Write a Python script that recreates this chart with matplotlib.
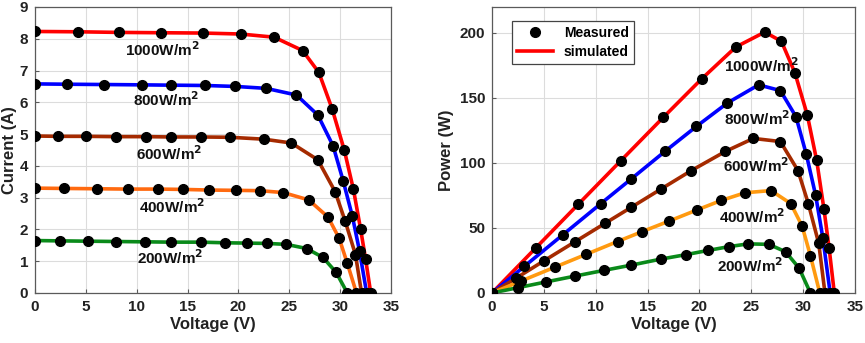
import matplotlib
matplotlib.use("Agg")
import matplotlib.pyplot as plt
from matplotlib.lines import Line2D

plt.rcParams['font.family'] = ['Liberation Sans', 'DejaVu Sans']
plt.rcParams['font.weight'] = 'bold'

# measured points (voltage V, current A, power W) for each irradiance level
levels = ['1000', '800', '600', '400', '200']

v_1000 = [0, 4.2, 8.3, 12.4, 16.5, 20.2, 23.5, 26.3, 27.9, 29.2, 30.4, 31.3, 32.0, 32.5, 33.0]
i_1000 = [8.23, 8.22, 8.20, 8.19, 8.18, 8.15, 8.05, 7.63, 6.94, 5.80, 4.50, 3.26, 2.02, 1.06, 0]
p_1000 = [0, 34.5, 68.1, 101.6, 135.0, 164.6, 189.2, 200.7, 193.6, 169.4, 136.8, 102.0, 64.6, 34.5, 0]

v_800 = [0, 3.1, 6.8, 10.5, 13.4, 16.7, 19.7, 22.7, 25.7, 27.8, 29.3, 30.3, 31.2, 31.9, 32.6]
i_800 = [6.58, 6.57, 6.56, 6.55, 6.54, 6.53, 6.50, 6.44, 6.23, 5.60, 4.63, 3.52, 2.41, 1.32, 0]
p_800 = [0, 20.4, 44.6, 68.8, 87.6, 109.1, 128.1, 146.2, 160.1, 155.7, 135.7, 106.7, 75.2, 42.1, 0]

v_600 = [0, 2.3, 5.0, 8.0, 10.9, 13.4, 16.3, 19.2, 22.5, 25.2, 27.8, 29.5, 30.5, 31.5, 32.1]
i_600 = [4.94, 4.93, 4.93, 4.92, 4.92, 4.91, 4.91, 4.90, 4.84, 4.72, 4.19, 3.19, 2.25, 1.21, 0]
p_600 = [0, 11.3, 24.7, 39.4, 53.6, 65.8, 80.0, 94.1, 108.9, 118.9, 116.5, 94.1, 68.6, 38.1, 0]

v_400 = [0, 2.8, 6.1, 9.1, 12.1, 14.5, 17.1, 19.8, 22.1, 24.4, 26.9, 28.8, 29.9, 30.7, 31.6]
i_400 = [3.30, 3.29, 3.28, 3.27, 3.27, 3.26, 3.24, 3.23, 3.22, 3.16, 2.93, 2.39, 1.72, 0.93, 0]
p_400 = [0, 9.2, 20.0, 29.8, 39.6, 47.3, 55.4, 64.0, 71.2, 77.1, 78.8, 68.8, 51.4, 28.6, 0]

v_200 = [0, 2.5, 5.2, 8.0, 10.8, 13.4, 16.3, 18.7, 20.8, 22.8, 24.7, 26.7, 28.3, 29.6, 30.7]
i_200 = [1.65, 1.64, 1.63, 1.62, 1.61, 1.60, 1.60, 1.58, 1.57, 1.56, 1.53, 1.40, 1.12, 0.65, 0]
p_200 = [0, 4.1, 8.5, 13.0, 17.4, 21.4, 26.1, 29.5, 32.7, 35.6, 37.8, 37.4, 31.7, 19.2, 0]

volts = [v_1000, v_800, v_600, v_400, v_200]
currents = [i_1000, i_800, i_600, i_400, i_200]
powers = [p_1000, p_800, p_600, p_400, p_200]

iv_colors = ['#ff0000', '#0000ff', '#a52a00', '#ff6a10', '#0a8a1a']
pv_colors = ['#ff0000', '#0000ff', '#a52a00', '#ff9a10', '#0a8a1a']

# label anchor positions (data coords)
iv_label_xy = [(12.5, 7.67), (12.9, 6.07), (13.2, 4.37), (13.5, 2.72), (13.3, 1.10)]
pv_label_xy = [(26.0, 175), (25.6, 134), (25.5, 98), (25.1, 59), (24.9, 21)]

fig = plt.figure(figsize=(8.65, 3.43), dpi=100)
ax1 = fig.add_axes([0.0405, 0.1458, 0.4116, 0.8338])
ax2 = fig.add_axes([0.5688, 0.1458, 0.4197, 0.8338])


def style_axes(ax):
    ax.grid(True, color='#dcdcdc', linewidth=0.8)
    ax.set_axisbelow(True)
    for s in ax.spines.values():
        s.set_color('#5a5a5a')
        s.set_linewidth(0.9)
    ax.tick_params(direction='in', length=3, color='#5a5a5a', labelsize=11,
                   labelcolor='#222222', pad=5)
    for lab in ax.get_xticklabels() + ax.get_yticklabels():
        lab.set_fontweight('bold')


for k in range(len(levels)):
    ax1.plot(volts[k], currents[k], color=iv_colors[k], lw=2.6, zorder=2)
    ax1.plot(volts[k], currents[k], 'o', color='black', ms=7, zorder=3)
    ax1.text(iv_label_xy[k][0], iv_label_xy[k][1], levels[k] + r'W/m$^{\mathbf{2}}$',
             ha='center', va='center', fontsize=11, fontweight='bold', color='#111111', zorder=4)

    ax2.plot(volts[k], powers[k], color=pv_colors[k], lw=2.6, zorder=2)
    ax2.plot(volts[k], powers[k], 'o', color='black', ms=7, zorder=3)
    ax2.text(pv_label_xy[k][0], pv_label_xy[k][1], levels[k] + r'W/m$^{\mathbf{2}}$',
             ha='center', va='center', fontsize=11, fontweight='bold', color='#111111', zorder=4)

ax1.set_xlim(0, 35)
ax1.set_ylim(0, 9)
ax1.set_xticks(range(0, 36, 5))
ax1.set_yticks(range(0, 10))
ax1.set_xlabel('Voltage (V)', fontsize=12, fontweight='bold', color='#222222', labelpad=2)
ax1.set_ylabel('Current (A)', fontsize=12, fontweight='bold', color='#222222', labelpad=2)
style_axes(ax1)

ax2.set_xlim(0, 35)
ax2.set_ylim(0, 220)
ax2.set_xticks(range(0, 36, 5))
ax2.set_yticks(range(0, 201, 50))
ax2.set_xlabel('Voltage (V)', fontsize=12, fontweight='bold', color='#222222', labelpad=2)
ax2.set_ylabel('Power (W)', fontsize=12, fontweight='bold', color='#222222', labelpad=4)
style_axes(ax2)

handles = [Line2D([], [], ls='none', marker='o', color='black', ms=7),
           Line2D([], [], color='#ff0000', lw=2.6)]
leg = ax2.legend(handles, ['Measured', 'simulated'], loc='upper left',
                 bbox_to_anchor=(0.035, 0.975), fancybox=False, framealpha=1,
                 edgecolor='#444444', prop={'weight': 'bold', 'size': 10},
                 handlelength=2.6, borderpad=0.35, labelspacing=0.35)
leg.get_frame().set_linewidth(0.9)

fig.savefig('out.png', dpi=100)
